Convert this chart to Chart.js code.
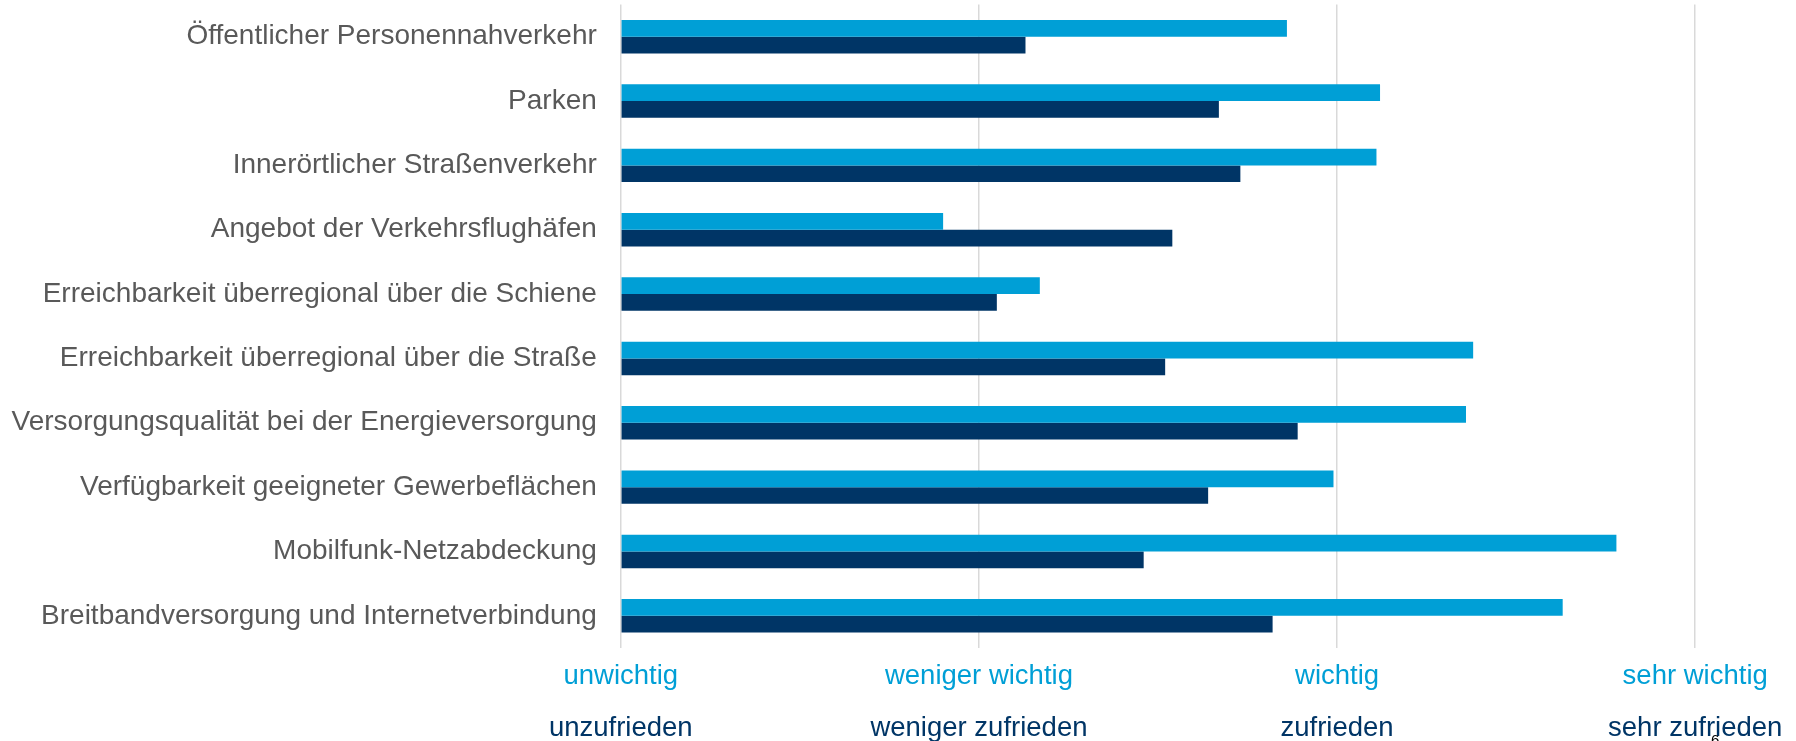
<!DOCTYPE html>
<html lang="de">
<head>
<meta charset="utf-8">
<script src="https://cdn.jsdelivr.net/npm/chart.js@4/dist/chart.umd.min.js"></script>
<style>
  body { margin: 0; background: #fff; }
  #wrap { position: relative; width: 1796px; height: 741px; }
  #seite { position: absolute; left: 1711px; top: 731px; font: 15px "Liberation Sans", Arial, sans-serif; color: #000; }
</style>
</head>
<body>
<div id="wrap">
  <canvas id="chart"></canvas>
  <div id="seite">6</div>
</div>
<script>
const kategorien = [
  'Öffentlicher Personennahverkehr',
  'Parken',
  'Innerörtlicher Straßenverkehr',
  'Angebot der Verkehrsflughäfen',
  'Erreichbarkeit überregional über die Schiene',
  'Erreichbarkeit überregional über die Straße',
  'Versorgungsqualität bei der Energieversorgung',
  'Verfügbarkeit geeigneter Gewerbeflächen',
  'Mobilfunk-Netzabdeckung',
  'Breitbandversorgung und Internetverbindung'
];

// Wichtigkeit (hellblau) und Zufriedenheit (dunkelblau), Skala 1-4
const wichtigkeit = [2.86, 3.12, 3.11, 1.90, 2.17, 3.38, 3.36, 2.99, 3.78, 3.63];
const zufriedenheit = [2.13, 2.67, 2.73, 2.54, 2.05, 2.52, 2.89, 2.64, 2.46, 2.82];

const skalaWichtig = ['unwichtig', 'weniger wichtig', 'wichtig', 'sehr wichtig'];
const skalaZufrieden = ['unzufrieden', 'weniger zufrieden', 'zufrieden', 'sehr zufrieden'];

const hellblau = '#009fd6';
const dunkelblau = '#003566';
const schrift = '"Liberation Sans", Arial, sans-serif';

Chart.defaults.font.family = schrift;

new Chart(document.getElementById('chart'), {
  type: 'bar',
  data: {
    labels: kategorien,
    datasets: [
      {
        label: 'Wichtigkeit',
        data: wichtigkeit,
        backgroundColor: hellblau,
        base: 1,
        categoryPercentage: 0.52,
        barPercentage: 1
      },
      {
        label: 'Zufriedenheit',
        data: zufriedenheit,
        backgroundColor: dunkelblau,
        base: 1,
        categoryPercentage: 0.52,
        barPercentage: 1
      }
    ]
  },
  options: {
    indexAxis: 'y',
    responsive: true,
    maintainAspectRatio: false,
    animation: false,
    devicePixelRatio: 1,
    layout: { padding: { top: 4.5, right: 100.8, bottom: 0, left: 0 } },
    plugins: {
      legend: { display: false },
      tooltip: { enabled: true }
    },
    scales: {
      y: {
        grid: { display: false },
        border: { display: false },
        ticks: {
          color: '#595959',
          font: { size: 28 },
          padding: 16
        },
        // feste Breite, keine Zusatzabstände oben/unten
        afterFit: scale => {
          scale.width = 620.8;
          scale.paddingTop = 0;
          scale.paddingBottom = 0;
        }
      },
      x: {
        position: 'bottom',
        weight: 1,
        min: 1,
        max: 4,
        grid: { color: '#d9d9d9', lineWidth: 1.5, drawTicks: false },
        border: { display: false },
        ticks: {
          stepSize: 1,
          autoSkip: false,
          maxRotation: 0,
          color: hellblau,
          font: { size: 27.5 },
          padding: 12,
          callback: value => skalaWichtig[value - 1] || ''
        },
        afterFit: scale => { scale.height = 52; }
      },
      x2: {
        type: 'linear',
        position: 'bottom',
        weight: 2,
        min: 1,
        max: 4,
        grid: { display: false, drawTicks: false },
        border: { display: false },
        ticks: {
          stepSize: 1,
          autoSkip: false,
          maxRotation: 0,
          color: dunkelblau,
          font: { size: 27.5 },
          padding: 12,
          callback: value => skalaZufrieden[value - 1] || ''
        },
        afterFit: scale => { scale.height = 41; }
      }
    }
  }
});
</script>
</body>
</html>
